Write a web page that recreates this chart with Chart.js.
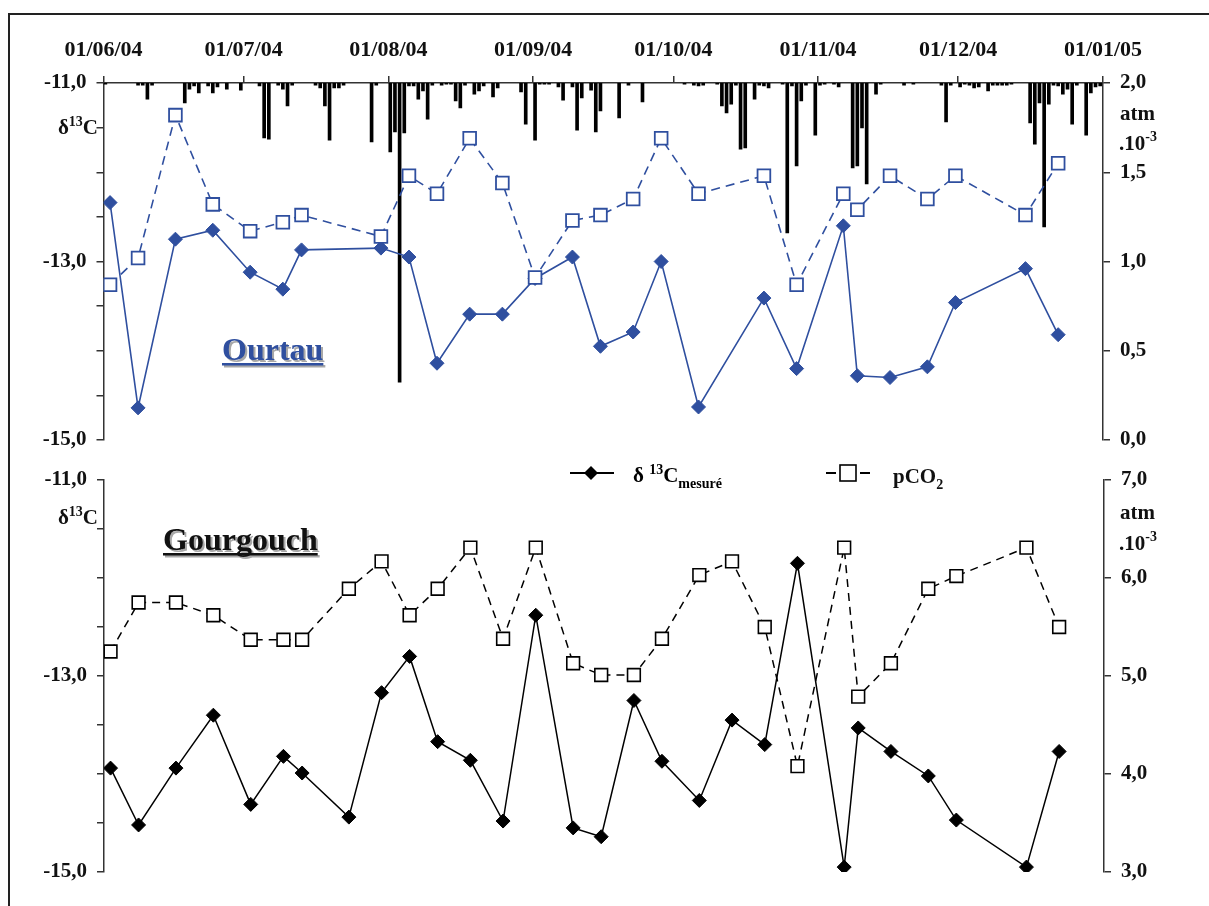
<!DOCTYPE html>
<html>
<head>
<meta charset="utf-8">
<script src="https://cdn.jsdelivr.net/npm/chart.js@4.4.1/dist/chart.umd.min.js"></script>
<style>
body { margin: 0; background: #fff; }
#wrap { position: relative; width: 1209px; height: 906px; overflow: hidden; background: #fff; }
#cadre { position: absolute; left: 8px; top: 13px; width: 1300px; height: 1000px; border: 2px solid #222; }
canvas { position: absolute; left: 0; top: 0; }
</style>
</head>
<body>
<div id="wrap">
  <div id="cadre"></div>
  <canvas id="haut" width="1209" height="906"></canvas>
  <canvas id="bas" width="1209" height="906"></canvas>
</div>
<script>
// dates de prélèvement (jj/mm/aa)
var datesPrel = ['02/06/04','08/06/04','16/06/04','24/06/04','02/07/04','09/07/04','13/07/04','23/07/04','30/07/04',
  '05/08/04','11/08/04','18/08/04','25/08/04','01/09/04','09/09/04','15/09/04','22/09/04','28/09/04',
  '06/10/04','13/10/04','20/10/04','27/10/04','06/11/04','09/11/04','16/11/04','24/11/04','30/11/04','15/12/04','22/12/04'];
var moisLabels = ['01/06/04','01/07/04','01/08/04','01/09/04','01/10/04','01/11/04','01/12/04','01/01/05'];

// Ourtau (null = pas de mesure)
var ourtauD13C = [-12.34,-14.64,-12.75,-12.65,-13.12,-13.31,-12.87,null,-12.85,-12.95,-14.14,-13.59,-13.59,-13.19,
  -12.95,-13.95,-13.79,-13.00,-14.63,null,-13.41,-14.20,-12.60,-14.28,-14.30,-14.18,-13.46,-13.08,-13.82];
var ourtauPCO2 = [0.87,1.02,1.82,1.32,1.17,1.22,1.26,null,1.14,1.48,1.38,1.69,1.44,0.91,
  1.23,1.26,1.35,1.69,1.38,null,1.48,0.87,1.38,1.29,1.48,1.35,1.48,1.26,1.55];

// Gourgouch
var gourgD13C = [-13.94,-14.52,-13.94,-13.40,-14.31,-13.82,-13.99,-14.44,-13.17,-12.80,-13.67,-13.86,-14.48,-12.38,
  -14.55,-14.64,-13.25,-13.87,-14.27,-13.45,-13.70,-11.85,-14.95,-13.53,-13.77,-14.02,-14.47,-14.95,-13.77];
var gourgPCO2 = [5.25,5.75,5.75,5.62,5.37,5.37,5.37,5.89,6.17,5.62,5.89,6.31,5.38,6.31,
  5.13,5.01,5.01,5.38,6.03,6.17,5.50,4.08,6.31,4.79,5.13,5.89,6.02,6.31,5.50];

// pluie journaliere (jour depuis le 01/06/04, mm)
var pluieJours = [0,7,8,9,10,17,18,19,20,22,23,24,26,29,33,34,35,37,38,39,40,45,46,47,48,49,50,51,57,58,
  61,62,63,64,65,66,67,68,69,70,72,73,74,75,76,77,79,80,81,83,84,89,90,92,93,94,95,97,98,100,
  101,102,104,105,106,110,112,115,124,126,127,128,131,132,133,134,135,136,137,139,140,141,142,145,146,147,148,149,150,152,
  153,154,156,157,160,161,162,163,165,166,171,173,179,180,181,183,184,185,186,187,189,190,191,192,193,194,
  198,199,200,201,202,203,204,205,206,207,208,210,211,212,213];
var pluie = [0.3,0.6,0.6,4.5,0.6,5.6,1.7,0.8,2.8,0.8,2.8,1.1,1.7,2.0,0.8,15.4,15.7,0.6,1.7,6.4,0.6,0.6,1.4,6.4,16.0,1.4,1.4,0.6,16.5,0.6,
  19.3,13.7,83.8,14.0,0.8,0.8,4.5,2.2,10.1,0.6,0.6,0.3,0.3,5.0,7.0,0.6,3.1,2.2,0.8,3.9,1.4,2.5,11.5,16.0,0.3,0.3,0.3,1.1,4.8,1.1,
  13.2,4.2,2.0,13.7,7.8,9.8,0.6,5.3,0.3,0.6,0.8,0.6,0.3,6.4,8.4,5.9,0.6,18.5,18.2,4.5,0.6,0.8,1.4,0.3,42.0,0.8,23.2,5.0,0.6,14.6,
  0.6,0.3,0.3,1.1,23.8,23.2,12.6,28.3,3.1,0.3,0.6,0.3,0.6,10.9,0.6,1.1,0.3,0.6,1.4,1.1,2.2,0.6,0.6,0.6,0.6,0.3,
  11.2,17.1,5.6,40.3,5.9,0.6,0.8,3.1,1.7,11.5,0.6,14.6,2.8,1.1,0.8];

var HEURE = 0.4; // prélèvements / pluie vers 10h
function jour(s) {
  var p = s.split('/');
  return (Date.UTC(2000 + +p[2], p[1] - 1, +p[0]) - Date.UTC(2004, 5, 1)) / 864e5;
}
var joursPrel = datesPrel.map(function (d) { return jour(d) + HEURE; });
var moisJours = moisLabels.map(jour);

function serie(vals) {
  return vals.map(function (v, i) { return { x: joursPrel[i], y: v }; });
}
function virgule(v) { return v.toFixed(1).replace('.', ','); }

var BLEU = '#2f4f9f';
var police = { family: '"Liberation Serif", "Times New Roman", serif', weight: 'bold', size: 21 };

function ecrire(ctx, morceaux, x, y, align) {
  var larg = 0;
  morceaux.forEach(function (m) { ctx.font = 'bold ' + m[1] + 'px "Liberation Serif"'; larg += ctx.measureText(m[0]).width; });
  var cx = align === 'right' ? x - larg : x;
  ctx.textAlign = 'left';
  ctx.textBaseline = 'alphabetic';
  morceaux.forEach(function (m) {
    ctx.font = 'bold ' + m[1] + 'px "Liberation Serif"';
    ctx.fillText(m[0], cx, y + m[2]);
    cx += ctx.measureText(m[0]).width;
  });
}
function titre(ctx, txt, x, y, coul) {
  ctx.font = 'bold 32px "Liberation Serif"';
  ctx.textAlign = 'left';
  ctx.textBaseline = 'alphabetic';
  var w = ctx.measureText(txt).width;
  ctx.fillStyle = '#a8a8a8';
  ctx.fillText(txt, x + 2, y + 2);
  ctx.fillRect(x + 2, y + 5, w, 2.5);
  ctx.fillStyle = coul;
  ctx.fillText(txt, x, y);
  ctx.fillRect(x, y + 3, w, 2.5);
}

function axeY(min, max, pas, pos, largeur, cb) {
  return {
    position: pos, min: min, max: max,
    afterFit: function (s) { s.width = largeur; },
    border: { display: true, color: '#333', width: 1.5 },
    grid: { drawOnChartArea: false, drawTicks: true, tickLength: 7, color: '#333', lineWidth: 1.5 },
    ticks: { stepSize: pas, padding: 10, color: '#111', font: police, callback: cb }
  };
}
function impairs(v) {
  return (Math.abs(v - Math.round(v)) < 1e-6 && Math.round(v) % 2 !== 0) ? virgule(v) : '';
}

// ---------- panneau du haut : Ourtau ----------
new Chart(document.getElementById('haut'), {
  data: {
    datasets: [
      { type: 'bar', label: 'pluie', data: pluie.map(function (v, i) { return { x: pluieJours[i] + HEURE, y: v }; }),
        yAxisID: 'yP', backgroundColor: '#000', barThickness: 3, order: 3 },
      { type: 'line', label: 'd13C', data: serie(ourtauD13C), yAxisID: 'y', spanGaps: true,
        borderColor: BLEU, borderWidth: 1.6, pointStyle: 'rectRot', pointRadius: 7,
        pointBackgroundColor: BLEU, pointBorderColor: BLEU, pointBorderWidth: 1, order: 2 },
      { type: 'line', label: 'pCO2', data: serie(ourtauPCO2), yAxisID: 'y2', spanGaps: true,
        borderColor: BLEU, borderWidth: 1.6, borderDash: [9, 6], pointStyle: 'rect', pointRadius: 9,
        pointBackgroundColor: '#fff', pointBorderColor: BLEU, pointBorderWidth: 1.8, order: 1 }
    ]
  },
  options: {
    responsive: false, animation: false, devicePixelRatio: 1,
    layout: { padding: { top: 0, bottom: 466, left: 0, right: 0 } },
    plugins: { legend: { display: false }, tooltip: { enabled: false } },
    scales: {
      x: {
        type: 'linear', position: 'top', min: 0, max: moisJours[moisJours.length - 1], offset: false,
        afterFit: function (s) { s.height = 83; },
        afterBuildTicks: function (s) { s.ticks = moisJours.map(function (v) { return { value: v }; }); },
        border: { display: true, color: '#333', width: 1.5 },
        grid: { offset: false, drawOnChartArea: false, drawTicks: true, tickLength: 7, color: '#333', lineWidth: 1.5 },
        ticks: { autoSkip: false, maxRotation: 0, padding: 12, color: '#111',
          font: { family: police.family, weight: 'bold', size: 22 },
          callback: function (v, i) { return moisLabels[i]; } }
      },
      y: axeY(-15, -11, 0.5, 'left', 103.5, impairs),
      y2: axeY(0, 2, 0.5, 'right', 106, function (v) { return virgule(v); }),
      yP: { display: false, min: 0, max: 100, reverse: true }
    }
  },
  plugins: [{
    id: 'textesHaut',
    afterDraw: function (chart) {
      var ctx = chart.ctx;
      ctx.save();
      ctx.fillStyle = '#111';
      ecrire(ctx, [['δ', 21, 0], ['13', 14, -8], ['C', 21, 0]], 98, 134, 'right');
      ecrire(ctx, [['atm', 21, 0]], 1120, 120);
      ecrire(ctx, [['.10', 21, 0], ['-3', 14, -9]], 1119, 150);
      titre(ctx, 'Ourtau', 222, 360, BLEU);
      ctx.restore();
    }
  }]
});

// ---------- panneau du bas : Gourgouch ----------
new Chart(document.getElementById('bas'), {
  data: {
    datasets: [
      { type: 'line', label: 'd13C', data: serie(gourgD13C), yAxisID: 'y',
        borderColor: '#000', borderWidth: 1.5, pointStyle: 'rectRot', pointRadius: 7,
        pointBackgroundColor: '#000', pointBorderColor: '#000', pointBorderWidth: 1, order: 2 },
      { type: 'line', label: 'pCO2', data: serie(gourgPCO2), yAxisID: 'y2',
        borderColor: '#000', borderWidth: 1.5, borderDash: [8, 6], pointStyle: 'rect', pointRadius: 9,
        pointBackgroundColor: '#fff', pointBorderColor: '#000', pointBorderWidth: 1.6, order: 1 }
    ]
  },
  options: {
    responsive: false, animation: false, devicePixelRatio: 1,
    layout: { padding: { top: 480, bottom: 34, left: 0, right: 0 } },
    plugins: { legend: { display: false }, tooltip: { enabled: false } },
    scales: {
      x: { type: 'linear', display: false, min: 0, max: moisJours[moisJours.length - 1] },
      y: axeY(-15, -11, 0.5, 'left', 104, impairs),
      y2: axeY(3, 7, 1, 'right', 105, function (v) { return virgule(v); })
    }
  },
  plugins: [{
    id: 'textesBas',
    afterDraw: function (chart) {
      var ctx = chart.ctx;
      ctx.save();
      ctx.fillStyle = '#111';
      ecrire(ctx, [['δ', 21, 0], ['13', 14, -8], ['C', 21, 0]], 98, 524, 'right');
      ecrire(ctx, [['atm', 21, 0]], 1120, 519);
      ecrire(ctx, [['.10', 21, 0], ['-3', 14, -9]], 1119, 550);
      titre(ctx, 'Gourgouch', 163, 550, '#111');

      // légende
      ctx.strokeStyle = '#000'; ctx.fillStyle = '#000'; ctx.lineWidth = 2;
      ctx.beginPath(); ctx.moveTo(570, 473); ctx.lineTo(614, 473); ctx.stroke();
      ctx.beginPath(); ctx.moveTo(591, 466); ctx.lineTo(598, 473); ctx.lineTo(591, 480); ctx.lineTo(584, 473); ctx.closePath(); ctx.fill();
      ecrire(ctx, [['δ ', 21, 0], ['13', 14, -8], ['C', 21, 0], ['mesuré', 14, 6]], 633, 482);
      ctx.lineWidth = 2;
      ctx.beginPath(); ctx.moveTo(826, 473); ctx.lineTo(836, 473); ctx.moveTo(860, 473); ctx.lineTo(870, 473); ctx.stroke();
      ctx.lineWidth = 1.6;
      ctx.fillStyle = '#fff'; ctx.fillRect(840, 465, 16, 16); ctx.strokeRect(840, 465, 16, 16);
      ctx.fillStyle = '#111';
      ecrire(ctx, [['pCO', 21, 0], ['2', 14, 6]], 893, 483);
      ctx.restore();
    }
  }]
});
</script>
</body>
</html>
